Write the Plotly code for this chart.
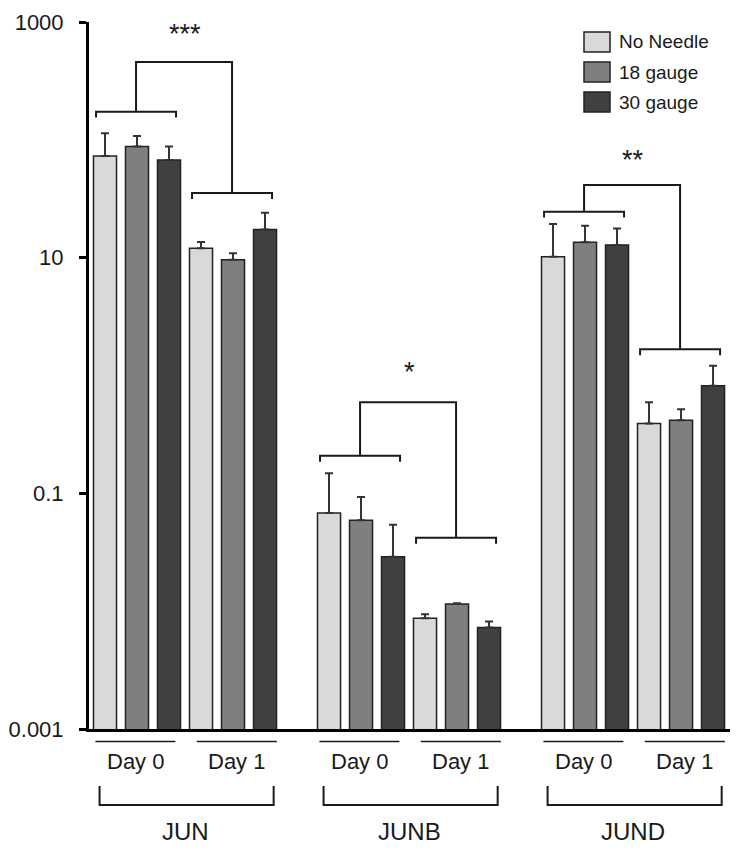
import plotly.graph_objects as go

# ---------------- data ----------------
genes = ["JUN", "JUNB", "JUND"]
days = ["Day 0", "Day 1"]
series = ["No Needle", "18 gauge", "30 gauge"]
# bar values (per gene: Day 0, Day 1)
no_needle = [73, 12.0, 0.068, 0.0087, 10.2, 0.392]
gauge18 = [88, 9.6, 0.059, 0.0115, 13.5, 0.418]
gauge30 = [67.5, 17.3, 0.029, 0.00726, 12.8, 0.818]
# upper error amounts
no_needle_err = [41, 1.6, 0.080, 0.0007, 9.1, 0.20]
gauge18_err = [20, 1.3, 0.034, 0.0002, 5.2, 0.10]
gauge30_err = [20.5, 6.7, 0.025, 0.0009, 4.9, 0.39]
signif = ["***", "*", "**"]
ytick_vals = [0.001, 0.1, 10, 1000]
ytick_text = ["0.001", "0.1", "10", "1000"]

colors = ["#d9d9d9", "#7f7f7f", "#404040"]
FONT = "Liberation Sans, Arial, sans-serif"
INK = "#1a1a1a"

# group slot positions: gene g, day d -> 7*g + 3*d ; series offset i
group_start = [7 * g + 3 * d for g in range(len(genes)) for d in range(len(days))]

fig = go.Figure()
vals = [no_needle, gauge18, gauge30]
errs = [no_needle_err, gauge18_err, gauge30_err]
for i, name in enumerate(series):
    fig.add_trace(go.Bar(
        x=[s + i for s in group_start], y=vals[i], name=name, width=0.72,
        marker=dict(color=colors[i], line=dict(color="#222222", width=1.5)),
        error_y=dict(type="data", array=errs[i], arrayminus=[0] * len(errs[i]),
                     symmetric=False, color="#333333", thickness=2, width=4),
        showlegend=False, hoverinfo="skip"))

# ---------- significance brackets (log-units heights) ----------
bracket_cfg = [
    # day0 bracket, day1 bracket, top connector (log10 heights)
    (2.239, 1.548, 2.660),
    (-0.682, -1.378, -0.228),
    (1.390, 0.222, 1.616),
]
drop = 0.05
half = 1.25
for g, (h0, h1, ht) in enumerate(bracket_cfg):
    c0 = 7 * g + 1 - 0.03
    c1 = 7 * g + 4 - 0.03
    xs, ys = [], []
    for c, h in ((c0, h0), (c1, h1)):
        xs += [c - half, c - half, c + half, c + half, None]
        ys += [10 ** (h - drop), 10 ** h, 10 ** h, 10 ** (h - drop), None]
    xs += [c0, c0, c1, c1]
    ys += [10 ** h0, 10 ** ht, 10 ** ht, 10 ** h1]
    fig.add_trace(go.Scatter(x=xs, y=ys, mode="lines",
                             line=dict(color=INK, width=2),
                             showlegend=False, hoverinfo="skip"))

# plot-area geometry in pixels
L, R, T, B = 89, 20, 22, 121
W, H = 750, 850
ph = H - T - B
pw = W - L - R


def py(pix):
    return (H - B - pix) / ph


def px(pix):
    return (pix - L) / pw


star_y = [34, 372, 160]
for g in range(len(genes)):
    fig.add_annotation(x=7 * g + 2.5, y=py(star_y[g]), xref="x", yref="paper",
                       text=signif[g], showarrow=False, yanchor="middle",
                       font=dict(size=27, color=INK, family=FONT))

# ---------- x-axis decorations ----------
shapes = []
day_shift = [-0.05, 0.12]
for g in range(len(genes)):
    for d in range(len(days)):
        c = 7 * g + 3 * d + 1 + day_shift[d]
        shapes.append(dict(type="line", xref="x", yref="paper",
                           x0=c - 1.25, x1=c + 1.25, y0=py(741.5), y1=py(741.5),
                           line=dict(color=INK, width=1.5)))
        fig.add_annotation(x=c, y=py(761), xref="x", yref="paper", text=days[d],
                           showarrow=False, yanchor="middle",
                           font=dict(size=22, color=INK, family=FONT))
    gc = 7 * g + 2.55
    shapes.append(dict(type="path", xref="x", yref="paper",
                       path=f"M {gc-2.72},{py(786)} L {gc-2.72},{py(805)} "
                            f"L {gc+2.72},{py(805)} L {gc+2.72},{py(786)}",
                       line=dict(color=INK, width=2)))
    fig.add_annotation(x=7 * g + 2.5, y=py(831), xref="x", yref="paper", text=genes[g],
                       showarrow=False, yanchor="middle",
                       font=dict(size=24, color=INK, family=FONT))

# ---------- custom legend ----------
for i, name in enumerate(series):
    top = 32 + 30 * i
    shapes.append(dict(type="rect", xref="paper", yref="paper",
                       x0=px(584), x1=px(610), y0=py(top + 20), y1=py(top),
                       fillcolor=colors[i], line=dict(color="#222222", width=1.5)))
    fig.add_annotation(x=px(617), y=py(top + 10), xref="paper", yref="paper",
                       text=name, showarrow=False, xanchor="left", yanchor="middle",
                       font=dict(size=19, color=INK, family=FONT))

fig.update_layout(
    width=W, height=H,
    margin=dict(l=L, r=R, t=T, b=B, pad=0, autoexpand=False),
    paper_bgcolor="white", plot_bgcolor="white",
    barmode="overlay", showlegend=False,
    shapes=shapes,
    font=dict(family=FONT, color=INK),
)
fig.update_xaxes(range=[-0.5, 19.53], showline=True, linewidth=3, linecolor="black",
                 showticklabels=False, ticks="", showgrid=False, zeroline=False,
                 automargin=False)
fig.update_yaxes(type="log", range=[-3, 3], tickvals=ytick_vals, ticktext=ytick_text,
                 showline=True, linewidth=3, linecolor="black", ticks="outside",
                 ticklen=7, tickwidth=3, tickcolor="black", showgrid=False,
                 zeroline=False, tickfont=dict(size=22, color=INK, family=FONT),
                 ticklabelstandoff=11, automargin=False)

fig.write_html("out.html", config={"displayModeBar": False},
               post_script="document.body.style.margin='0';document.body.style.padding='0';")
